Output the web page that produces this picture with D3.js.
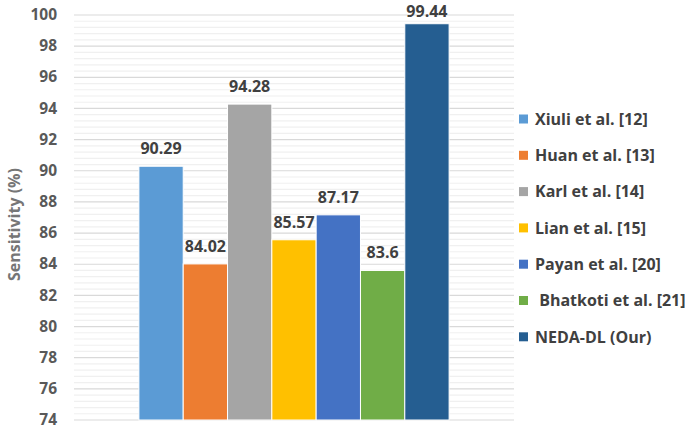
<!DOCTYPE html>
<html>
<head>
    <title>Sensitivity Comparison</title>
    <script src="https://d3js.org/d3.v7.min.js"></script>
    <style>
        body { margin: 0; background: #fff; }
        text { font-family: "Open Sans", "Noto Sans", sans-serif; font-weight: bold; }
    </style>
</head>
<body>
<svg width="685" height="429"></svg>
<script>
    const categories = [""];
    const methods = ["Xiuli et al. [12]", "Huan et al. [13]", "Karl et al. [14]", "Lian et al. [15]",
        "Payan et al. [20]", " Bhatkoti et al. [21]", "NEDA-DL (Our)"];
    const sensitivity = [90.29, 84.02, 94.28, 85.57, 87.17, 83.6, 99.44];
    const labels = ["90.29", "84.02", "94.28", "85.57", "87.17", "83.6", "99.44"];
    const yTicks = [74, 76, 78, 80, 82, 84, 86, 88, 90, 92, 94, 96, 98, 100];
    const colors = ["#5b9bd5", "#ed7d31", "#a5a5a5", "#ffc000", "#4472c4", "#70ad47", "#255e91"];

    const width = 685, height = 429;
    const margin = {top: 15, right: 171, bottom: 9, left: 74};
    const innerW = width - margin.left - margin.right;
    const innerH = height - margin.top - margin.bottom;

    const svg = d3.select("svg");
    const g = svg.append("g")
        .attr("transform", "translate(" + margin.left + "," + margin.top + ")");

    const y = d3.scaleLinear().domain([74, 100]).range([innerH, 0]);
    const x0 = d3.scaleBand().domain(categories).range([0, innerW]).padding(0.173);
    const x1 = d3.scaleBand().domain(methods).range([0, x0.bandwidth()]);

    // minor gridlines every 0.4
    const minor = d3.range(74.4, 100, 0.4).filter(v => Math.abs(v / 2 - Math.round(v / 2)) > 0.01);
    g.selectAll(".minor")
        .data(minor)
        .enter().append("line")
        .attr("x1", 0).attr("x2", innerW)
        .attr("y1", d => y(d)).attr("y2", d => y(d))
        .attr("stroke", "#f0f0f0")
        .attr("stroke-width", 1.2);

    // major gridlines
    g.selectAll(".major")
        .data(yTicks)
        .enter().append("line")
        .attr("x1", 0).attr("x2", innerW)
        .attr("y1", d => y(d)).attr("y2", d => y(d))
        .attr("stroke", "#d9d9d9")
        .attr("stroke-width", 1.2);

    // y axis labels
    const yAxis = g.append("g")
        .call(d3.axisLeft(y).tickValues(yTicks).tickSize(0).tickPadding(17));
    yAxis.select(".domain").remove();
    yAxis.selectAll("text")
        .attr("dy", "0.3em")
        .style("font-size", "15.5px")
        .attr("fill", "#595959");

    svg.append("text")
        .attr("transform", "translate(20," + (margin.top + innerH / 2 + 7) + ") rotate(-90)")
        .attr("text-anchor", "middle")
        .style("font-size", "16px")
        .attr("fill", "#767676")
        .text("Sensitivity (%)");

    const rows = methods.map((m, i) => ({name: m, value: sensitivity[i], label: labels[i], color: colors[i]}));

    const grp = g.append("g")
        .attr("transform", "translate(" + x0(categories[0]) + ",0)");

    grp.selectAll("rect")
        .data(rows)
        .enter().append("rect")
        .attr("x", d => x1(d.name))
        .attr("y", d => y(d.value))
        .attr("width", x1.bandwidth())
        .attr("height", d => innerH - y(d.value))
        .attr("fill", d => d.color)
        .attr("stroke", "#fff")
        .attr("stroke-width", 1);

    grp.selectAll(".lbl")
        .data(rows)
        .enter().append("text")
        .attr("x", d => x1(d.name) + x1.bandwidth() / 2)
        .attr("y", d => Math.max(y(d.value) - 12, 2))
        .attr("text-anchor", "middle")
        .style("font-size", "16px")
        .attr("fill", "#404040")
        .text(d => d.label);

    // legend
    const legend = svg.append("g").attr("transform", "translate(519,119)");
    const item = legend.selectAll(".item")
        .data(rows)
        .enter().append("g")
        .attr("transform", (d, i) => "translate(0," + i * 36.3 + ")");
    item.append("rect")
        .attr("x", 0).attr("y", -4.5)
        .attr("width", 9).attr("height", 9)
        .attr("fill", d => d.color);
    item.append("text")
        .attr("x", 16).attr("dy", "0.36em")
        .style("font-size", "16px")
        .style("white-space", "pre")
        .attr("xml:space", "preserve")
        .attr("fill", "#404040")
        .text(d => d.name);
</script>
</body>
</html>
